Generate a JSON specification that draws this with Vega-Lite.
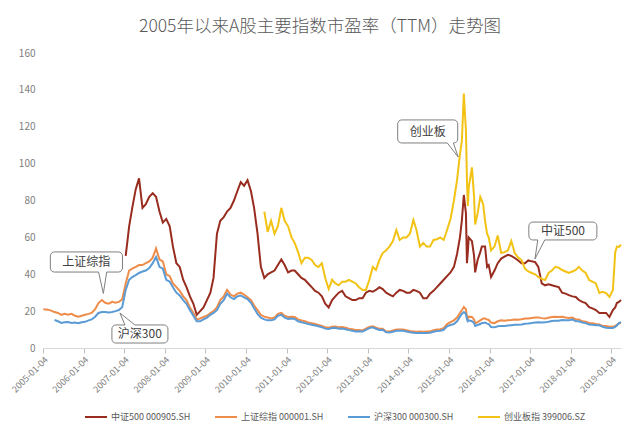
{
  "$schema": "https://vega.github.io/schema/vega-lite/v6.json",
  "width": 578,
  "height": 295,
  "autosize": {"type": "none"},
  "padding": {"left": 43, "top": 53, "right": 19, "bottom": 79},
  "background": "white",
  "title": {"text": "2005年以来A股主要指数市盈率（TTM）走势图", "fontSize": 17.5, "font": "Noto Sans CJK SC", "fontWeight": 300, "color": "#595959", "offset": 13, "dx": -12},
  "config": {
    "view": {"stroke": null},
    "font": "Noto Sans CJK SC",
    "axisX": {"domainColor": "#D9D9D9", "tickColor": "#BFBFBF", "tickSize": 5, "grid": false, "labelFontSize": 9, "labelColor": "#808080", "labelAngle": -45, "labelPadding": 2, "labelOverlap": false, "labelExpr": "timeFormat(datum.value, '%Y') + '-01-04'", "tickCount": {"interval": "year", "step": 1}},
    "axisY": {"domain": false, "ticks": false, "grid": false, "labelFontSize": 10, "labelColor": "#808080", "labelPadding": 8, "labelOverlap": false, "tickCount": 8}
  },
  "datasets": {
    "pe": [
      {"d": "2005-01-04", "zz": null, "sz": 21.0, "hs": null, "cy": null},
      {"d": "2005-02-15", "zz": null, "sz": 20.8, "hs": null, "cy": null},
      {"d": "2005-03-15", "zz": null, "sz": 20.3, "hs": null, "cy": null},
      {"d": "2005-04-15", "zz": null, "sz": 19.5, "hs": 15.2, "cy": null},
      {"d": "2005-05-15", "zz": null, "sz": 19.0, "hs": 14.5, "cy": null},
      {"d": "2005-06-15", "zz": null, "sz": 18.0, "hs": 13.6, "cy": null},
      {"d": "2005-07-15", "zz": null, "sz": 18.5, "hs": 14.0, "cy": null},
      {"d": "2005-08-15", "zz": null, "sz": 18.0, "hs": 14.1, "cy": null},
      {"d": "2005-09-15", "zz": null, "sz": 18.5, "hs": 13.6, "cy": null},
      {"d": "2005-10-15", "zz": null, "sz": 17.5, "hs": 13.8, "cy": null},
      {"d": "2005-11-15", "zz": null, "sz": 17.0, "hs": 13.4, "cy": null},
      {"d": "2005-12-15", "zz": null, "sz": 17.5, "hs": 14.0, "cy": null},
      {"d": "2006-01-15", "zz": null, "sz": 18.0, "hs": 14.2, "cy": null},
      {"d": "2006-02-15", "zz": null, "sz": 18.5, "hs": 15.0, "cy": null},
      {"d": "2006-03-15", "zz": null, "sz": 19.0, "hs": 15.5, "cy": null},
      {"d": "2006-04-15", "zz": null, "sz": 21.0, "hs": 17.0, "cy": null},
      {"d": "2006-05-15", "zz": null, "sz": 24.4, "hs": 19.0, "cy": null},
      {"d": "2006-06-15", "zz": null, "sz": 26.0, "hs": 19.5, "cy": null},
      {"d": "2006-07-15", "zz": null, "sz": 24.5, "hs": 19.5, "cy": null},
      {"d": "2006-08-15", "zz": null, "sz": 24.0, "hs": 19.3, "cy": null},
      {"d": "2006-09-15", "zz": null, "sz": 25.0, "hs": 19.5, "cy": null},
      {"d": "2006-10-15", "zz": null, "sz": 24.5, "hs": 20.0, "cy": null},
      {"d": "2006-11-15", "zz": null, "sz": 25.0, "hs": 20.6, "cy": null},
      {"d": "2006-12-15", "zz": null, "sz": 26.5, "hs": 22.2, "cy": null},
      {"d": "2007-01-15", "zz": 50, "sz": 35, "hs": 31.5, "cy": null},
      {"d": "2007-02-15", "zz": 66, "sz": 42, "hs": 37, "cy": null},
      {"d": "2007-03-15", "zz": 76, "sz": 43, "hs": 38.5, "cy": null},
      {"d": "2007-04-15", "zz": 86, "sz": 44, "hs": 39.5, "cy": null},
      {"d": "2007-05-15", "zz": 92, "sz": 45, "hs": 40.7, "cy": null},
      {"d": "2007-06-15", "zz": 76, "sz": 45, "hs": 41.5, "cy": null},
      {"d": "2007-07-15", "zz": 78, "sz": 46, "hs": 42, "cy": null},
      {"d": "2007-08-15", "zz": 82, "sz": 47, "hs": 43.4, "cy": null},
      {"d": "2007-09-15", "zz": 84, "sz": 49, "hs": 46, "cy": null},
      {"d": "2007-10-15", "zz": 82, "sz": 54, "hs": 49.4, "cy": null},
      {"d": "2007-11-15", "zz": 74, "sz": 48, "hs": 44, "cy": null},
      {"d": "2007-12-15", "zz": 68, "sz": 47, "hs": 43, "cy": null},
      {"d": "2008-01-15", "zz": 70, "sz": 40, "hs": 37, "cy": null},
      {"d": "2008-02-15", "zz": 66, "sz": 39, "hs": 36, "cy": null},
      {"d": "2008-03-15", "zz": 55, "sz": 35, "hs": 33, "cy": null},
      {"d": "2008-04-15", "zz": 46, "sz": 33, "hs": 30, "cy": null},
      {"d": "2008-05-15", "zz": 44, "sz": 31, "hs": 28.5, "cy": null},
      {"d": "2008-06-15", "zz": 37, "sz": 28, "hs": 26, "cy": null},
      {"d": "2008-07-15", "zz": 33, "sz": 26, "hs": 24, "cy": null},
      {"d": "2008-08-15", "zz": 28, "sz": 22, "hs": 20.5, "cy": null},
      {"d": "2008-09-15", "zz": 24, "sz": 19, "hs": 17.5, "cy": null},
      {"d": "2008-10-15", "zz": 18, "sz": 15.5, "hs": 14.5, "cy": null},
      {"d": "2008-11-15", "zz": 20, "sz": 16, "hs": 14.5, "cy": null},
      {"d": "2008-12-15", "zz": 22, "sz": 16.8, "hs": 15.5, "cy": null},
      {"d": "2009-01-15", "zz": 26, "sz": 17.5, "hs": 16.5, "cy": null},
      {"d": "2009-02-15", "zz": 30, "sz": 19, "hs": 18, "cy": null},
      {"d": "2009-03-15", "zz": 38, "sz": 20, "hs": 19, "cy": null},
      {"d": "2009-04-15", "zz": 62, "sz": 22, "hs": 20.5, "cy": null},
      {"d": "2009-05-15", "zz": 69, "sz": 26, "hs": 24, "cy": null},
      {"d": "2009-06-15", "zz": 71, "sz": 28, "hs": 26, "cy": null},
      {"d": "2009-07-15", "zz": 74, "sz": 31.5, "hs": 29.5, "cy": null},
      {"d": "2009-08-15", "zz": 76, "sz": 29, "hs": 27.5, "cy": null},
      {"d": "2009-09-15", "zz": 80, "sz": 28, "hs": 26.5, "cy": null},
      {"d": "2009-10-15", "zz": 85, "sz": 29.5, "hs": 28, "cy": null},
      {"d": "2009-11-15", "zz": 90, "sz": 30, "hs": 28.5, "cy": null},
      {"d": "2009-12-15", "zz": 88, "sz": 29, "hs": 27.5, "cy": null},
      {"d": "2010-01-15", "zz": 91, "sz": 27.5, "hs": 26.5, "cy": null},
      {"d": "2010-02-15", "zz": 85, "sz": 26, "hs": 24.5, "cy": null},
      {"d": "2010-03-15", "zz": 76, "sz": 23, "hs": 21.5, "cy": null},
      {"d": "2010-04-15", "zz": 62, "sz": 20.5, "hs": 18.5, "cy": null},
      {"d": "2010-05-15", "zz": 44, "sz": 18, "hs": 16.5, "cy": null},
      {"d": "2010-06-15", "zz": 38, "sz": 17, "hs": 15.5, "cy": 74},
      {"d": "2010-07-15", "zz": 40, "sz": 16.5, "hs": 15, "cy": 63},
      {"d": "2010-08-15", "zz": 41, "sz": 16, "hs": 15, "cy": 69},
      {"d": "2010-09-15", "zz": 42, "sz": 16.5, "hs": 15.5, "cy": 62},
      {"d": "2010-10-15", "zz": 45, "sz": 18.5, "hs": 17.5, "cy": 66},
      {"d": "2010-11-15", "zz": 48, "sz": 19, "hs": 18, "cy": 76},
      {"d": "2010-12-15", "zz": 45, "sz": 17.5, "hs": 16.5, "cy": 69},
      {"d": "2011-01-15", "zz": 41, "sz": 16.8, "hs": 15.8, "cy": 66},
      {"d": "2011-02-15", "zz": 42, "sz": 17, "hs": 16, "cy": 60},
      {"d": "2011-03-15", "zz": 42, "sz": 16.8, "hs": 15.8, "cy": 57},
      {"d": "2011-04-15", "zz": 40, "sz": 15.5, "hs": 14.5, "cy": 52},
      {"d": "2011-05-15", "zz": 38, "sz": 15, "hs": 14, "cy": 46},
      {"d": "2011-06-15", "zz": 37, "sz": 14.5, "hs": 13.5, "cy": 49},
      {"d": "2011-07-15", "zz": 35, "sz": 13.8, "hs": 13, "cy": 49},
      {"d": "2011-08-15", "zz": 33, "sz": 13.5, "hs": 12.6, "cy": 47.7},
      {"d": "2011-09-15", "zz": 31, "sz": 13, "hs": 12.2, "cy": 45},
      {"d": "2011-10-15", "zz": 30, "sz": 12.5, "hs": 11.8, "cy": 44},
      {"d": "2011-11-15", "zz": 28, "sz": 12, "hs": 11.3, "cy": 46},
      {"d": "2011-12-15", "zz": 24, "sz": 11.2, "hs": 10.5, "cy": 38},
      {"d": "2012-01-15", "zz": 22, "sz": 11.0, "hs": 10.3, "cy": 32},
      {"d": "2012-02-15", "zz": 26, "sz": 11.5, "hs": 10.8, "cy": 37},
      {"d": "2012-03-15", "zz": 28, "sz": 11.6, "hs": 11, "cy": 35},
      {"d": "2012-04-15", "zz": 30, "sz": 11.2, "hs": 10.5, "cy": 34},
      {"d": "2012-05-15", "zz": 31, "sz": 11.4, "hs": 10.6, "cy": 36},
      {"d": "2012-06-15", "zz": 28, "sz": 11.0, "hs": 10.2, "cy": 36},
      {"d": "2012-07-15", "zz": 27, "sz": 10.5, "hs": 9.7, "cy": 37},
      {"d": "2012-08-15", "zz": 26, "sz": 10.2, "hs": 9.4, "cy": 36},
      {"d": "2012-09-15", "zz": 26, "sz": 9.8, "hs": 9.0, "cy": 35},
      {"d": "2012-10-15", "zz": 27, "sz": 9.8, "hs": 9.1, "cy": 33},
      {"d": "2012-11-15", "zz": 27, "sz": 9.5, "hs": 8.9, "cy": 31.5},
      {"d": "2012-12-15", "zz": 30, "sz": 10.5, "hs": 9.8, "cy": 31.5},
      {"d": "2013-01-15", "zz": 31, "sz": 11.4, "hs": 10.8, "cy": 37},
      {"d": "2013-02-15", "zz": 30.5, "sz": 11.8, "hs": 11.2, "cy": 44},
      {"d": "2013-03-15", "zz": 31.5, "sz": 11, "hs": 10.4, "cy": 42.3},
      {"d": "2013-04-15", "zz": 33, "sz": 10.5, "hs": 9.8, "cy": 47.7},
      {"d": "2013-05-15", "zz": 32, "sz": 10.5, "hs": 9.9, "cy": 51.5},
      {"d": "2013-06-15", "zz": 30, "sz": 9.0, "hs": 8.5, "cy": 53},
      {"d": "2013-07-15", "zz": 29, "sz": 9.0, "hs": 8.4, "cy": 55},
      {"d": "2013-08-15", "zz": 28, "sz": 9.5, "hs": 8.8, "cy": 58},
      {"d": "2013-09-15", "zz": 30, "sz": 10, "hs": 9.3, "cy": 64},
      {"d": "2013-10-15", "zz": 31.5, "sz": 10, "hs": 9.3, "cy": 58.6},
      {"d": "2013-11-15", "zz": 31, "sz": 10, "hs": 9.3, "cy": 60},
      {"d": "2013-12-15", "zz": 30, "sz": 9.6, "hs": 8.9, "cy": 60},
      {"d": "2014-01-15", "zz": 30, "sz": 9.2, "hs": 8.5, "cy": 62},
      {"d": "2014-02-15", "zz": 31.5, "sz": 9.0, "hs": 8.3, "cy": 69.4},
      {"d": "2014-03-15", "zz": 31, "sz": 8.8, "hs": 8.1, "cy": 64},
      {"d": "2014-04-15", "zz": 30, "sz": 8.9, "hs": 8.2, "cy": 55},
      {"d": "2014-05-15", "zz": 27, "sz": 8.8, "hs": 8.1, "cy": 57},
      {"d": "2014-06-15", "zz": 27, "sz": 8.9, "hs": 8.2, "cy": 55},
      {"d": "2014-07-15", "zz": 29.5, "sz": 9.0, "hs": 8.3, "cy": 55},
      {"d": "2014-08-15", "zz": 31, "sz": 9.6, "hs": 8.8, "cy": 58.6},
      {"d": "2014-09-15", "zz": 33, "sz": 10, "hs": 9.2, "cy": 59},
      {"d": "2014-10-15", "zz": 35, "sz": 10.2, "hs": 9.4, "cy": 60},
      {"d": "2014-11-15", "zz": 37, "sz": 10.8, "hs": 9.9, "cy": 58.6},
      {"d": "2014-12-15", "zz": 39, "sz": 13, "hs": 11.8, "cy": 64},
      {"d": "2015-01-15", "zz": 41, "sz": 14, "hs": 12.5, "cy": 70},
      {"d": "2015-02-15", "zz": 44, "sz": 15, "hs": 13, "cy": 80},
      {"d": "2015-03-15", "zz": 51, "sz": 16.5, "hs": 14.5, "cy": 91},
      {"d": "2015-04-10", "zz": 60, "sz": 19, "hs": 17, "cy": 105},
      {"d": "2015-04-27", "zz": 69, "sz": 20.5, "hs": 18.5, "cy": 112},
      {"d": "2015-05-15", "zz": 83, "sz": 22.2, "hs": 19.5, "cy": 138},
      {"d": "2015-06-03", "zz": 73, "sz": 21, "hs": 18.5, "cy": 118},
      {"d": "2015-06-12", "zz": 46, "sz": 17, "hs": 15.5, "cy": 91},
      {"d": "2015-06-20", "zz": 52, "sz": 16, "hs": 14.5, "cy": 77},
      {"d": "2015-06-28", "zz": 60, "sz": 17, "hs": 15, "cy": 87},
      {"d": "2015-07-27", "zz": 58, "sz": 16.8, "hs": 14.5, "cy": 98},
      {"d": "2015-08-15", "zz": 50, "sz": 15.5, "hs": 13.5, "cy": 82},
      {"d": "2015-08-25", "zz": 41, "sz": 13.5, "hs": 12, "cy": 67},
      {"d": "2015-09-16", "zz": 47.7, "sz": 14, "hs": 12.5, "cy": 73},
      {"d": "2015-10-10", "zz": 52, "sz": 15, "hs": 13, "cy": 82},
      {"d": "2015-10-24", "zz": 55, "sz": 15.5, "hs": 13.5, "cy": 80},
      {"d": "2015-11-05", "zz": 55, "sz": 16, "hs": 13.5, "cy": 78},
      {"d": "2015-11-22", "zz": 55, "sz": 16, "hs": 13.8, "cy": 69},
      {"d": "2015-12-10", "zz": 44, "sz": 15.5, "hs": 13.2, "cy": 62},
      {"d": "2015-12-25", "zz": 45, "sz": 15.2, "hs": 13, "cy": 60},
      {"d": "2016-01-15", "zz": 38.5, "sz": 13.8, "hs": 11.4, "cy": 53},
      {"d": "2016-02-15", "zz": 42, "sz": 13.5, "hs": 11.2, "cy": 55},
      {"d": "2016-03-15", "zz": 46, "sz": 14.5, "hs": 11.8, "cy": 61},
      {"d": "2016-04-15", "zz": 48.5, "sz": 15, "hs": 12, "cy": 51.5},
      {"d": "2016-05-15", "zz": 49.5, "sz": 14.8, "hs": 12, "cy": 52},
      {"d": "2016-06-15", "zz": 50.5, "sz": 15, "hs": 12.2, "cy": 53},
      {"d": "2016-07-15", "zz": 50, "sz": 15.2, "hs": 12.4, "cy": 58},
      {"d": "2016-08-15", "zz": 48.8, "sz": 15.5, "hs": 12.6, "cy": 51.5},
      {"d": "2016-09-15", "zz": 47.5, "sz": 15.3, "hs": 12.6, "cy": 49},
      {"d": "2016-10-15", "zz": 46, "sz": 15.6, "hs": 12.8, "cy": 47.7},
      {"d": "2016-11-15", "zz": 46, "sz": 16, "hs": 13.2, "cy": 43},
      {"d": "2016-12-15", "zz": 47.5, "sz": 16, "hs": 13.3, "cy": 41.5},
      {"d": "2017-01-15", "zz": 47, "sz": 16.3, "hs": 13.5, "cy": 40.7},
      {"d": "2017-02-15", "zz": 46.6, "sz": 16.5, "hs": 13.8, "cy": 40},
      {"d": "2017-03-15", "zz": 44, "sz": 16.6, "hs": 14, "cy": 38.5},
      {"d": "2017-04-15", "zz": 35, "sz": 16.2, "hs": 13.8, "cy": 37.5},
      {"d": "2017-05-15", "zz": 34, "sz": 16, "hs": 13.9, "cy": 36.9},
      {"d": "2017-06-15", "zz": 34.5, "sz": 16.4, "hs": 14.2, "cy": 40.7},
      {"d": "2017-07-15", "zz": 34, "sz": 16.8, "hs": 14.6, "cy": 42},
      {"d": "2017-08-15", "zz": 33.5, "sz": 17, "hs": 14.8, "cy": 44},
      {"d": "2017-09-15", "zz": 33, "sz": 16.8, "hs": 14.8, "cy": 43.5},
      {"d": "2017-10-15", "zz": 30, "sz": 17, "hs": 15.2, "cy": 42.3},
      {"d": "2017-11-15", "zz": 29.5, "sz": 16.6, "hs": 15, "cy": 41.5},
      {"d": "2017-12-15", "zz": 28.7, "sz": 16.3, "hs": 15, "cy": 40.7},
      {"d": "2018-01-15", "zz": 28, "sz": 16.5, "hs": 15.5, "cy": 41.5},
      {"d": "2018-02-15", "zz": 27.7, "sz": 15.5, "hs": 14.5, "cy": 42.3},
      {"d": "2018-03-15", "zz": 26, "sz": 15.5, "hs": 14.5, "cy": 44},
      {"d": "2018-04-15", "zz": 25, "sz": 14.5, "hs": 13.8, "cy": 42},
      {"d": "2018-05-15", "zz": 24.4, "sz": 14.2, "hs": 13.5, "cy": 40.7},
      {"d": "2018-06-15", "zz": 22.2, "sz": 13.6, "hs": 12.8, "cy": 36.9},
      {"d": "2018-07-15", "zz": 21.5, "sz": 13.4, "hs": 12.6, "cy": 36},
      {"d": "2018-08-15", "zz": 20.6, "sz": 13.0, "hs": 12.4, "cy": 35},
      {"d": "2018-09-15", "zz": 19, "sz": 12.8, "hs": 12.3, "cy": 29.8},
      {"d": "2018-10-15", "zz": 19, "sz": 12.0, "hs": 11.5, "cy": 30.5},
      {"d": "2018-11-15", "zz": 19, "sz": 12.0, "hs": 11, "cy": 29.8},
      {"d": "2018-12-15", "zz": 16.8, "sz": 11.5, "hs": 10.8, "cy": 27.7},
      {"d": "2019-01-15", "zz": 20.6, "sz": 11.5, "hs": 10.8, "cy": 31.5},
      {"d": "2019-02-05", "zz": 22, "sz": 12, "hs": 11.5, "cy": 52},
      {"d": "2019-02-20", "zz": 24.4, "sz": 12.5, "hs": 12.2, "cy": 55},
      {"d": "2019-03-10", "zz": 25, "sz": 13.3, "hs": 13.5, "cy": 54.8},
      {"d": "2019-03-29", "zz": 26, "sz": 13.8, "hs": 14, "cy": 56}
    ],
    "notes": [
      {"label": "上证综指", "x1": "2005-03-08", "x2": "2006-12-17", "y1": 41.2, "y2": 52.1, "tx": "2006-01-26", "ty": 46.6, "b1": "2006-05-16", "b2": "2006-07-28", "by": 41.2, "tip": "2006-06-28", "tipy": 29.6},
      {"label": "沪深300", "x1": "2006-09-13", "x2": "2008-01-30", "y1": 2.7, "y2": 12.5, "tx": "2007-05-22", "ty": 7.6, "b1": "2007-01-08", "b2": "2007-04-08", "by": 12.5, "tip": "2006-11-24", "tipy": 19},
      {"label": "创业板", "x1": "2013-09-27", "x2": "2015-03-21", "y1": 111.2, "y2": 123.7, "tx": "2014-06-25", "ty": 117.4, "b1": "2014-12-17", "b2": "2015-02-10", "by": 111.2, "tip": "2015-03-25", "tipy": 103.6},
      {"label": "中证500", "x1": "2016-12-20", "x2": "2018-08-24", "y1": 58.6, "y2": 68.3, "tx": "2017-10-23", "ty": 63.5, "b1": "2017-03-10", "b2": "2017-05-12", "by": 58.6, "tip": "2017-02-13", "tipy": 48.3}
    ]
  },
  "layer": [
    {
      "data": {"name": "pe"},
      "transform": [{"fold": ["zz", "sz", "hs", "cy"], "as": ["k", "v"]}],
      "mark": {"type": "line", "strokeWidth": 2},
      "encoding": {
        "x": {"field": "d", "type": "temporal", "title": null,
          "scale": {"domain": [{"year": 2005, "month": 1, "date": 1}, {"year": 2019, "month": 3, "date": 29}]}},
        "y": {"field": "v", "type": "quantitative", "title": null,
          "scale": {"domain": [0, 160]}},
        "color": {"field": "k", "type": "nominal",
          "scale": {"domain": ["zz", "sz", "hs", "cy"], "range": ["#982C1E", "#EE8C4A", "#5B9BD5", "#F2C314"]},
          "legend": {"orient": "none", "legendX": 41, "legendY": 352, "direction": "horizontal", "title": null,
            "symbolType": "stroke", "symbolSize": 484, "symbolStrokeWidth": 2, "labelFontSize": 9, "labelColor": "#595959",
            "labelOffset": 3, "columnPadding": 20, "padding": 0,
            "labelExpr": "datum.label == 'zz' ? '中证500 000905.SH' : datum.label == 'sz' ? '上证综指 000001.SH' : datum.label == 'hs' ? '沪深300 000300.SH' : '创业板指 399006.SZ'"}}
      }
    },
    {
      "data": {"name": "notes"},
      "mark": {"type": "rect", "fill": "white", "stroke": "#7F7F7F", "strokeWidth": 1, "cornerRadius": 4},
      "encoding": {
        "x": {"field": "x1", "type": "temporal", "title": null},
        "x2": {"field": "x2"},
        "y": {"field": "y1", "type": "quantitative", "title": null},
        "y2": {"field": "y2"}
      }
    },
    {
      "data": {"name": "notes"},
      "mark": {"type": "rule", "stroke": "white", "strokeWidth": 2},
      "encoding": {
        "x": {"field": "b1", "type": "temporal", "title": null},
        "x2": {"field": "b2"},
        "y": {"field": "by", "type": "quantitative", "title": null}
      }
    },
    {
      "data": {"name": "notes"},
      "mark": {"type": "rule", "stroke": "#7F7F7F", "strokeWidth": 1},
      "encoding": {
        "x": {"field": "b1", "type": "temporal", "title": null},
        "x2": {"field": "tip"},
        "y": {"field": "by", "type": "quantitative", "title": null},
        "y2": {"field": "tipy"}
      }
    },
    {
      "data": {"name": "notes"},
      "mark": {"type": "rule", "stroke": "#7F7F7F", "strokeWidth": 1},
      "encoding": {
        "x": {"field": "b2", "type": "temporal", "title": null},
        "x2": {"field": "tip"},
        "y": {"field": "by", "type": "quantitative", "title": null},
        "y2": {"field": "tipy"}
      }
    },
    {
      "data": {"name": "notes"},
      "mark": {"type": "text", "fontSize": 12, "color": "#404040", "baseline": "middle", "align": "center"},
      "encoding": {
        "x": {"field": "tx", "type": "temporal", "title": null},
        "y": {"field": "ty", "type": "quantitative", "title": null},
        "text": {"field": "label"}
      }
    }
  ]
}
